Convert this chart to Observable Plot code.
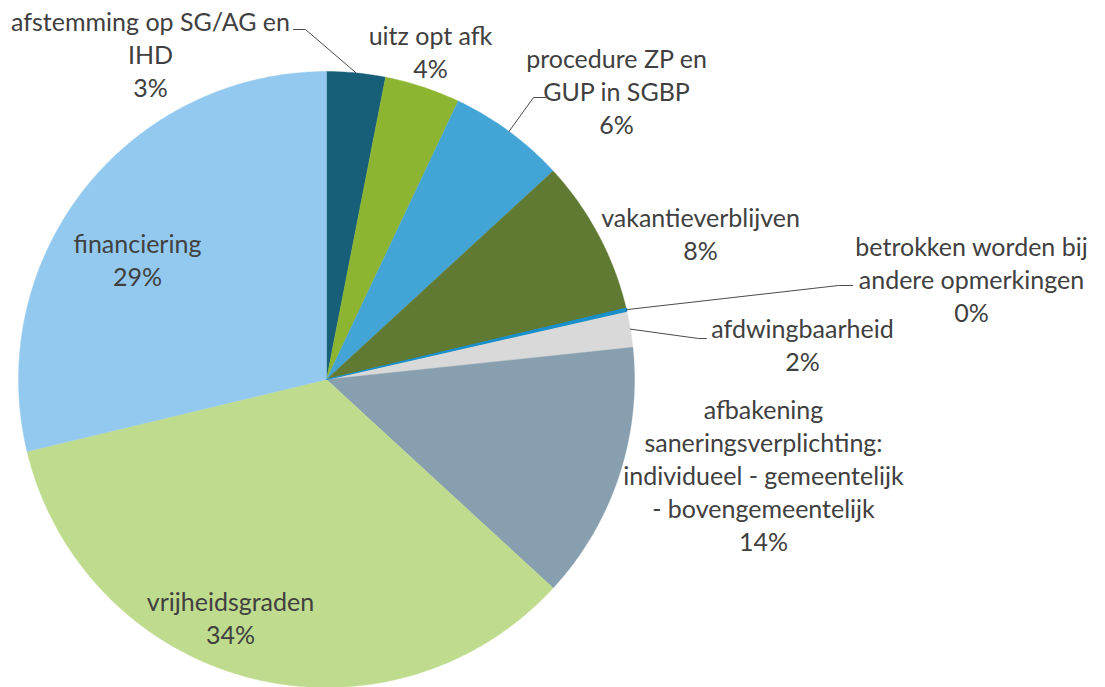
<!DOCTYPE html>
<html><head><meta charset="utf-8">
<script src="https://cdn.jsdelivr.net/npm/d3@7"></script>
<script src="https://cdn.jsdelivr.net/npm/@observablehq/plot@0.6"></script>
<style>body{margin:0;background:#fff}</style>
</head><body><div id="chart"></div>
<script>
// ---- data ----
const categories = [
  "afstemming op SG/AG en IHD",
  "uitz opt afk",
  "procedure ZP en GUP in SGBP",
  "vakantieverblijven",
  "betrokken worden bij andere opmerkingen",
  "afdwingbaarheid",
  "afbakening saneringsverplichting: individueel - gemeentelijk - bovengemeentelijk",
  "vrijheidsgraden",
  "financiering"
];
const values = [3.07, 3.96, 6.13, 8.12, 0.15, 1.9, 13.5, 34.4, 28.75];
const percentLabels = ["3%", "4%", "6%", "8%", "0%", "2%", "14%", "34%", "29%"];
const colors = ["#175f78", "#8db531", "#43a4d6", "#617a33", "#1a8fc9", "#d9d9d9", "#879faf", "#bfdb8e", "#93c9ef"];

// ---- layout ----
const W = 1105, H = 687, CX = 326, CY = 379, R = 308;
const labelLines = [
  ["afstemming op SG/AG en", "IHD"],
  ["uitz opt afk"],
  ["procedure ZP en", "GUP in SGBP"],
  ["vakantieverblijven"],
  ["betrokken worden bij", "andere opmerkingen"],
  ["afdwingbaarheid"],
  ["afbakening", "saneringsverplichting:", "individueel - gemeentelijk", "- bovengemeentelijk"],
  ["vrijheidsgraden"],
  ["financiering"]
];
const labelPos = [[150, 53], [430, 50], [616, 90], [700, 232], [971, 278], [802, 343], [763, 474], [230, 616], [137, 258]];
const leaderElbows = {0: [[305, 29], [293, 29]], 2: [[533, 97], [545, 97]], 4: [[838, 285], [852, 285]], 5: [[698, 338], [706, 338]]};

const px = (p) => p - CX;      // pixel x -> data x
const py = (p) => CY - p;      // pixel y -> data y

const arcs = d3.pie().sort(null).value(d => d)(values);
const slicePts = [];
arcs.forEach((a, i) => {
  const name = categories[i];
  slicePts.push({name, x: 0, y: 0});
  const n = Math.max(2, Math.ceil((a.endAngle - a.startAngle) / (Math.PI / 360)));
  for (let k = 0; k <= n; k++) {
    const t = a.startAngle + (a.endAngle - a.startAngle) * k / n;
    slicePts.push({name, x: R * Math.sin(t), y: R * Math.cos(t)});
  }
  slicePts.push({name, x: 0, y: 0});
});

const labels = categories.map((c, i) => ({
  name: c,
  text: labelLines[i].join("\n") + "\n" + percentLabels[i],
  x: px(labelPos[i][0]),
  y: py(labelPos[i][1])
}));

const leaderPts = [];
Object.entries(leaderElbows).forEach(([i, pts]) => {
  const a = arcs[+i];
  const m = (a.startAngle + a.endAngle) / 2;
  leaderPts.push({id: i, x: R * Math.sin(m), y: R * Math.cos(m)});
  pts.forEach(p => leaderPts.push({id: i, x: px(p[0]), y: py(p[1])}));
});

const tiny = categories[4];
const chart = Plot.plot({
  width: W, height: H, margin: 0,
  x: {domain: [-CX, W - CX], axis: null},
  y: {domain: [CY - H, CY], axis: null},
  color: {domain: categories, range: colors},
  marks: [
    Plot.line(slicePts, {x: "x", y: "y", z: "name", fill: "name", stroke: "name", strokeWidth: 0.4}),
    Plot.line(slicePts.filter(d => d.name === tiny), {x: "x", y: "y", z: "name", fill: "name", stroke: "name", strokeWidth: 1.2}),
    Plot.line(leaderPts, {x: "x", y: "y", z: "id", stroke: "#4a4a4a", strokeWidth: 1}),
    Plot.text(labels, {x: "x", y: "y", text: "text", fontSize: 25, lineHeight: 1.32, fill: "#404040",
      fontFamily: "Lato, 'Open Sans', sans-serif", textAnchor: "middle", lineAnchor: "middle"})
  ]
});
document.getElementById("chart").appendChild(chart);
</script>
</body></html>
